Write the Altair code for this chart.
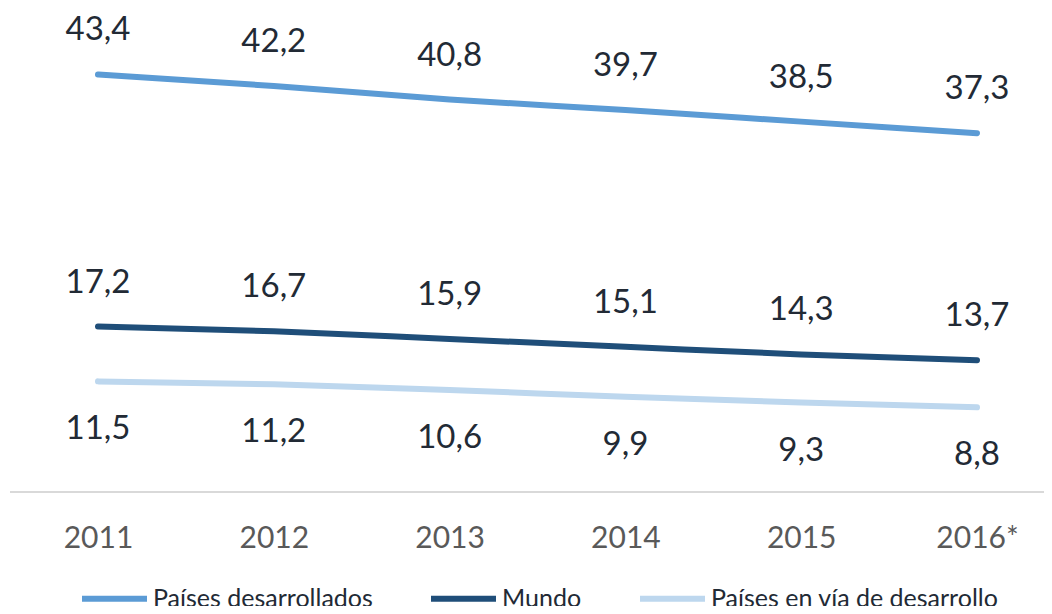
import altair as alt
import pandas as pd

years = ["2011", "2012", "2013", "2014", "2015", "2016*"]
series = ["Países desarrollados", "Mundo", "Países en vía de desarrollo"]
colors = ["#5B9BD5", "#1F4E79", "#BDD7EE"]
desarrollados = [43.4, 42.2, 40.8, 39.7, 38.5, 37.3]
mundo = [17.2, 16.7, 15.9, 15.1, 14.3, 13.7]
en_desarrollo = [11.5, 11.2, 10.6, 9.9, 9.3, 8.8]

rows = []
for name, vals in zip(series, [desarrollados, mundo, en_desarrollo]):
    for y, v in zip(years, vals):
        rows.append({"year": y, "serie": name, "value": v,
                     "label": f"{v:.1f}".replace(".", ","),
                     "below": name == "Países en vía de desarrollo"})
df = pd.DataFrame(rows)

FONT = "Lato"
W, H = 1034, 481
x = alt.X("year:N", sort=years, title=None,
          scale=alt.Scale(type="point", range=[88, 967], padding=0),
          axis=alt.Axis(labelAngle=0, ticks=False, domain=False,
                        labelColor="#595959", labelFontSize=30, labelFont=FONT,
                        labelPadding=31, grid=False))
y = alt.Y("value:Q", scale=alt.Scale(domain=[0, 50], nice=False), axis=None)
color = alt.Color("serie:N", sort=series, title=None,
                  scale=alt.Scale(domain=series, range=colors),
                  legend=alt.Legend(orient="none", legendX=69, legendY=552, direction="horizontal",
                                    columns=3, symbolType="stroke", symbolSize=4225,
                                    symbolStrokeWidth=6, labelFontSize=25, labelFont=FONT,
                                    labelColor="#222A35", labelOffset=3, columnPadding=46,
                                    labelLimit=400))

base = alt.Chart(df).encode(x=x, y=y)
baseline = alt.Chart(pd.DataFrame({"v": [0]})).mark_rule(color="#D9D9D9", strokeWidth=2).encode(
    y=alt.Y("v:Q", scale=alt.Scale(domain=[0, 50], nice=False), axis=None),
    x=alt.value(0), x2=alt.value(W))
lines = base.mark_line(strokeWidth=6, strokeCap="round", interpolate="monotone").encode(color=color)
above = base.transform_filter("!datum.below").mark_text(
    dy=-44, fontSize=33, font=FONT, color="#222A35").encode(text="label:N")
below = base.transform_filter("datum.below").mark_text(
    dy=48, fontSize=33, font=FONT, color="#222A35").encode(text="label:N")

chart = alt.layer(baseline, lines, above, below).properties(
    width=W, height=H,
    autosize=alt.AutoSizeParams(type="none"),
    padding={"left": 2, "top": 3, "right": 0, "bottom": 114},
).configure(background="white").configure_view(stroke=None)

chart.save("out.html", embed_options={"renderer": "svg", "actions": False})
